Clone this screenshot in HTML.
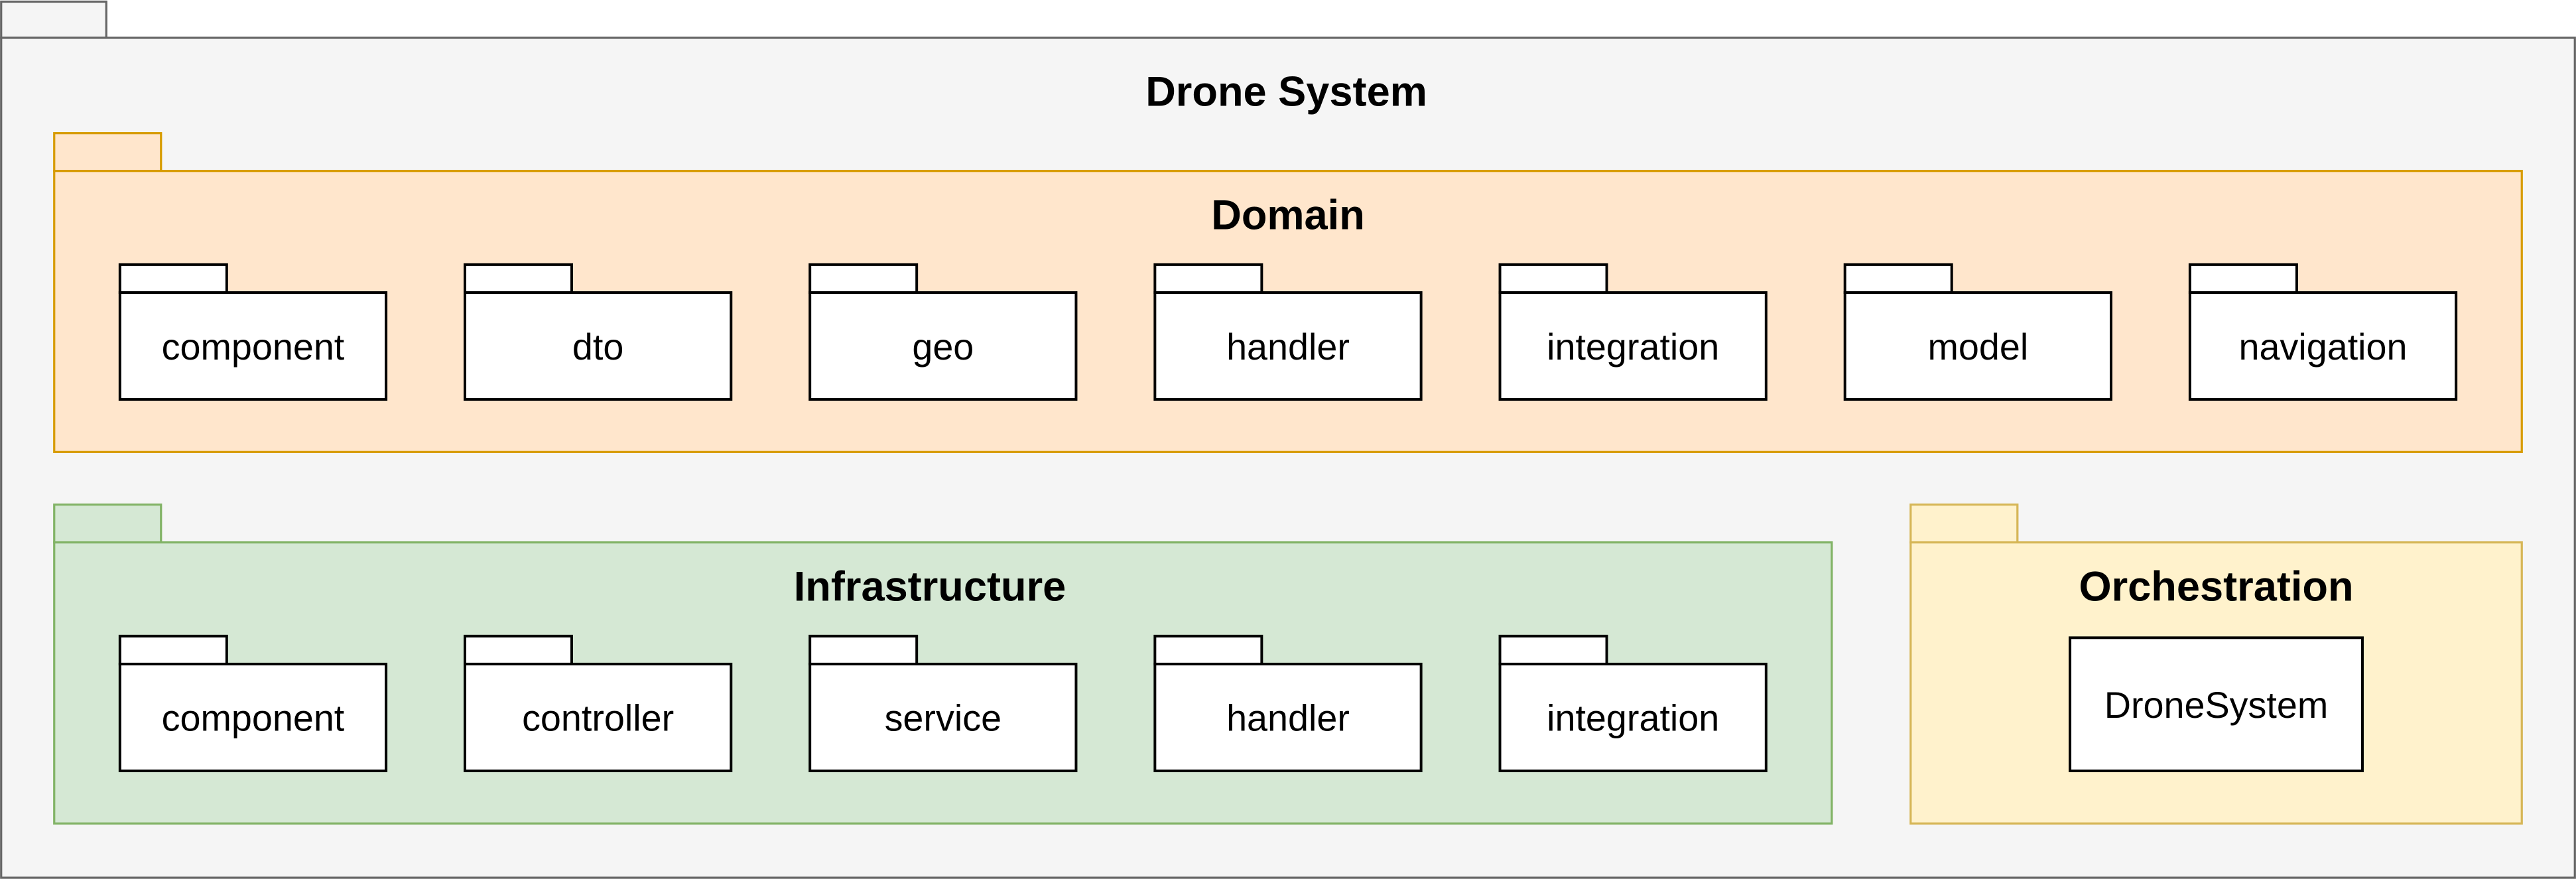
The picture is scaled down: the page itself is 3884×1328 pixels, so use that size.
<!DOCTYPE html>
<html><head><meta charset="utf-8"><style>
html,body{margin:0;padding:0;background:#fff;}
svg{display:block;}
text{font-family:"Liberation Sans",Arial,sans-serif;text-anchor:middle;dominant-baseline:central;}
.t{font-weight:bold;font-size:25.5px;}
.l{font-size:22.5px;}
</style></head><body>
<svg width="3884" height="1328" viewBox="0 0 1568 536" preserveAspectRatio="none" xmlns="http://www.w3.org/2000/svg">
<g stroke="#666" stroke-width="1.3" fill="#f5f5f5">
<rect x="0.7" y="1" width="64" height="22"/>
<rect x="0.7" y="23" width="1566.6" height="511"/>
</g>
<text class="t" x="783" y="56">Drone System</text>

<g stroke="#d79b00" stroke-width="1.3" fill="#ffe6cc">
<rect x="33" y="81" width="65" height="23"/>
<rect x="33" y="104" width="1502" height="171"/>
</g>
<text class="t" x="784" y="131">Domain</text>

<g stroke="#82b366" stroke-width="1.3" fill="#d5e8d4">
<rect x="33" y="307" width="65" height="23"/>
<rect x="33" y="330" width="1082" height="171"/>
</g>
<text class="t" x="566" y="357">Infrastructure</text>

<g stroke="#d6b656" stroke-width="1.3" fill="#fff2cc">
<rect x="1163" y="307" width="65" height="23"/>
<rect x="1163" y="330" width="372" height="171"/>
</g>
<text class="t" x="1349" y="357">Orchestration</text>

<g stroke="#000" stroke-width="1.6" fill="#fff">
<rect x="73" y="161" width="65" height="17"/><rect x="73" y="178" width="162" height="65"/>
<rect x="283" y="161" width="65" height="17"/><rect x="283" y="178" width="162" height="65"/>
<rect x="493" y="161" width="65" height="17"/><rect x="493" y="178" width="162" height="65"/>
<rect x="703" y="161" width="65" height="17"/><rect x="703" y="178" width="162" height="65"/>
<rect x="913" y="161" width="65" height="17"/><rect x="913" y="178" width="162" height="65"/>
<rect x="1123" y="161" width="65" height="17"/><rect x="1123" y="178" width="162" height="65"/>
<rect x="1333" y="161" width="65" height="17"/><rect x="1333" y="178" width="162" height="65"/>

<rect x="73" y="387" width="65" height="17"/><rect x="73" y="404" width="162" height="65"/>
<rect x="283" y="387" width="65" height="17"/><rect x="283" y="404" width="162" height="65"/>
<rect x="493" y="387" width="65" height="17"/><rect x="493" y="404" width="162" height="65"/>
<rect x="703" y="387" width="65" height="17"/><rect x="703" y="404" width="162" height="65"/>
<rect x="913" y="387" width="65" height="17"/><rect x="913" y="404" width="162" height="65"/>

<rect x="1260" y="388" width="178" height="81"/>
</g>
<g>
<text class="l" x="154" y="211">component</text>
<text class="l" x="364" y="211">dto</text>
<text class="l" x="574" y="211">geo</text>
<text class="l" x="784" y="211">handler</text>
<text class="l" x="994" y="211">integration</text>
<text class="l" x="1204" y="211">model</text>
<text class="l" x="1414" y="211">navigation</text>
<text class="l" x="154" y="437">component</text>
<text class="l" x="364" y="437">controller</text>
<text class="l" x="574" y="437">service</text>
<text class="l" x="784" y="437">handler</text>
<text class="l" x="994" y="437">integration</text>
<text class="l" x="1349" y="429">DroneSystem</text>
</g>
</svg>
</body></html>
